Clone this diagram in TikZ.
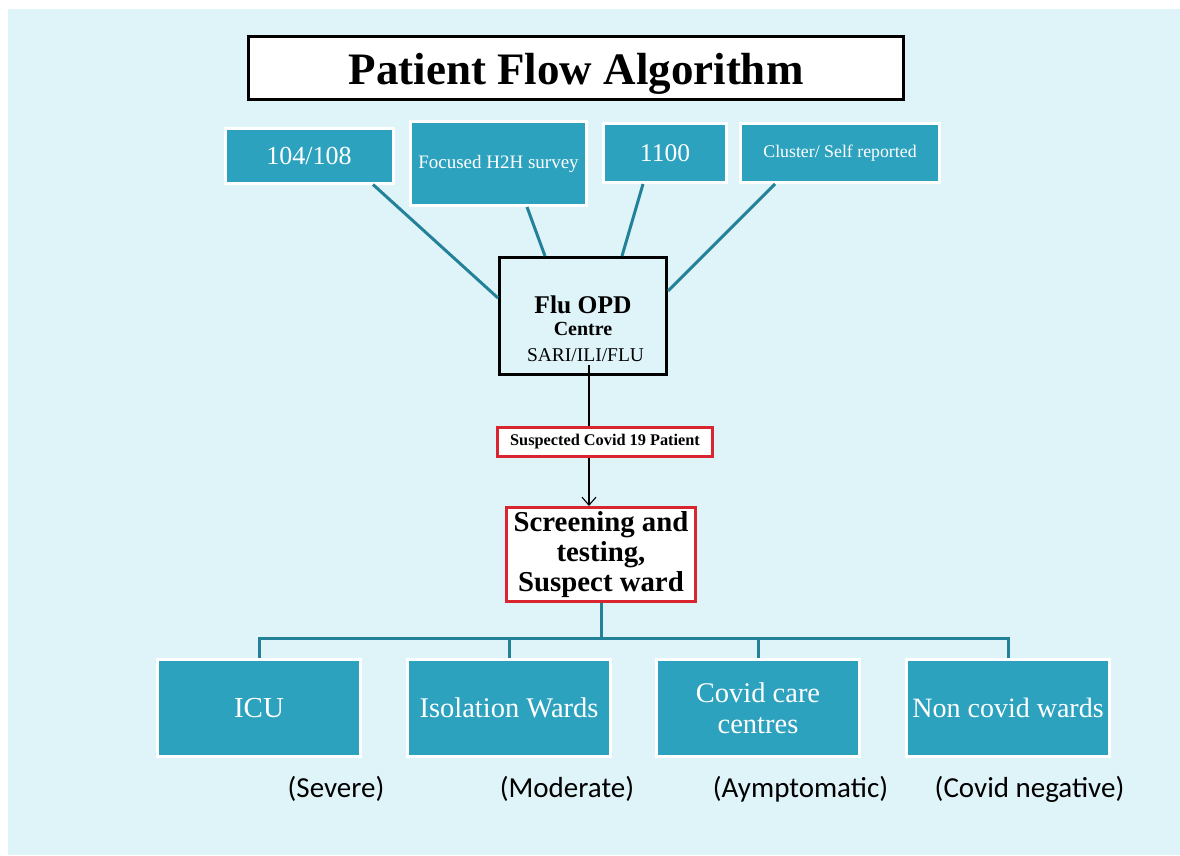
\documentclass[tikz,border=0pt]{standalone}
\usepackage{fontspec}
\setmainfont{Liberation Serif}
\newfontfamily\calib{Carlito}
\usetikzlibrary{arrows.meta,calc}
\definecolor{bgc}{HTML}{DFF4F9}
\definecolor{tealfill}{HTML}{2DA2BF}
\definecolor{tealline}{HTML}{24819A}
\definecolor{redb}{HTML}{D9252F}
\begin{document}
\begin{tikzpicture}[x=1pt,y=-1pt,
  tbox/.style={draw=white,line width=3pt,fill=tealfill,text=white,inner sep=0pt,align=center},
  blkbox/.style={draw=black,line width=3pt,inner sep=0pt},
  redbox/.style={draw=redb,line width=3pt,fill=white,inner sep=0pt,align=center},
  tline/.style={draw=tealline,line width=3pt},
  bline/.style={draw=black,line width=1.1pt},
  lbl/.style={inner sep=0pt,font=\calib\fontsize{29}{31}\selectfont}
]
\useasboundingbox (0,0) rectangle (1180,855);
\fill[white] (0,0) rectangle (1180,855);
\fill[bgc] (8,9) rectangle (1180,855);

% title
\node[blkbox,fill=white,minimum width=655,minimum height=63] (title) at (576,68) {};
\node[inner sep=0pt,anchor=base,font=\bfseries\fontsize{45}{50}\selectfont] (titletext) at (576,84) {Patient Flow Algorithm};

% top sources
\node[tbox,minimum width=168,minimum height=55,font=\fontsize{26}{28}\selectfont] (b104) at (309,155.5) {104/108};
\node[tbox,minimum width=176,minimum height=84,font=\fontsize{19}{21}\selectfont] (bh2h) at (498.5,163.5) {Focused H2H survey};
\node[tbox,minimum width=123,minimum height=59,font=\fontsize{25.5}{28}\selectfont] (b1100) at (665,153) {1100};
\node[tbox,minimum width=199,minimum height=59,font=\fontsize{17.8}{20}\selectfont] (bclu) at (840,153) {Cluster/ Self reported};

% Flu OPD box
\node[blkbox,minimum width=167,minimum height=117] (flu) at (583,316) {};
\node[inner sep=0pt,font=\bfseries\fontsize{25.5}{28}\selectfont] (flut1) at (583,305) {Flu OPD};
\node[inner sep=0pt,font=\bfseries\fontsize{20}{22}\selectfont] (flut2) at (583,328.5) {Centre};
\node[inner sep=0pt,font=\fontsize{19.5}{22}\selectfont] (flut3) at (585.5,355.5) {SARI/ILI/FLU};

% connectors into flu
\draw[tline] ([xshift=64]b104.south) -- ([yshift=18]flu.west);
\draw[tline] ([xshift=28.5]bh2h.south) -- ([xshift=-38]flu.north);
\draw[tline] ([xshift=-22]b1100.south) -- ([xshift=39]flu.north);
\draw[tline] ([xshift=-65]bclu.south) -- ([yshift=25]flu.east);

% suspected
\node[redbox,minimum width=215,minimum height=29,font=\bfseries\fontsize{16.3}{18}\selectfont] (susp) at (605,442) {Suspected Covid 19 Patient};
\draw[bline] ([xshift=6,yshift=11]flu.south) -- ([xshift=-16]susp.north);

% screening
\node[redbox,minimum width=189,minimum height=94,font=\bfseries\fontsize{28.8}{30}\selectfont] (scr) at (601,554.5) {Screening and\\testing,\\Suspect ward};
\draw[bline,-{Straight Barb[length=8pt,width=14pt,line width=1.1pt]}] ([xshift=-16]susp.south) -- ([xshift=-12]scr.north);

% bottom boxes
\node[tbox,minimum width=203,minimum height=97,font=\fontsize{29}{31}\selectfont] (icu) at (259,708) {ICU};
\node[tbox,minimum width=203,minimum height=97,font=\fontsize{28.5}{31}\selectfont] (iso) at (509,708) {Isolation Wards};
\node[tbox,minimum width=203,minimum height=97,font=\fontsize{28.5}{31}\selectfont] (ccc) at (758,708) {Covid care\\centres};
\node[tbox,minimum width=203,minimum height=97,font=\fontsize{28}{31}\selectfont] (ncw) at (1008,708) {Non covid wards};

% tree
\coordinate (hub) at (601,638);
\draw[tline] (scr.south) -- (hub);
\draw[tline] (icu.north) |- (hub);
\draw[tline] (ncw.north) |- (hub);
\draw[tline] (iso.north) -- (iso.north |- hub);
\draw[tline] (ccc.north) -- (ccc.north |- hub);

% labels
\node[lbl] (l1) at (336,789) {(Severe)};
\node[lbl] (l2) at (567,789) {(Moderate)};
\node[lbl] (l3) at (800.5,789) {(Aymptomatic)};
\node[lbl] (l4) at (1029.5,789) {(Covid negative)};
\end{tikzpicture}
\end{document}
